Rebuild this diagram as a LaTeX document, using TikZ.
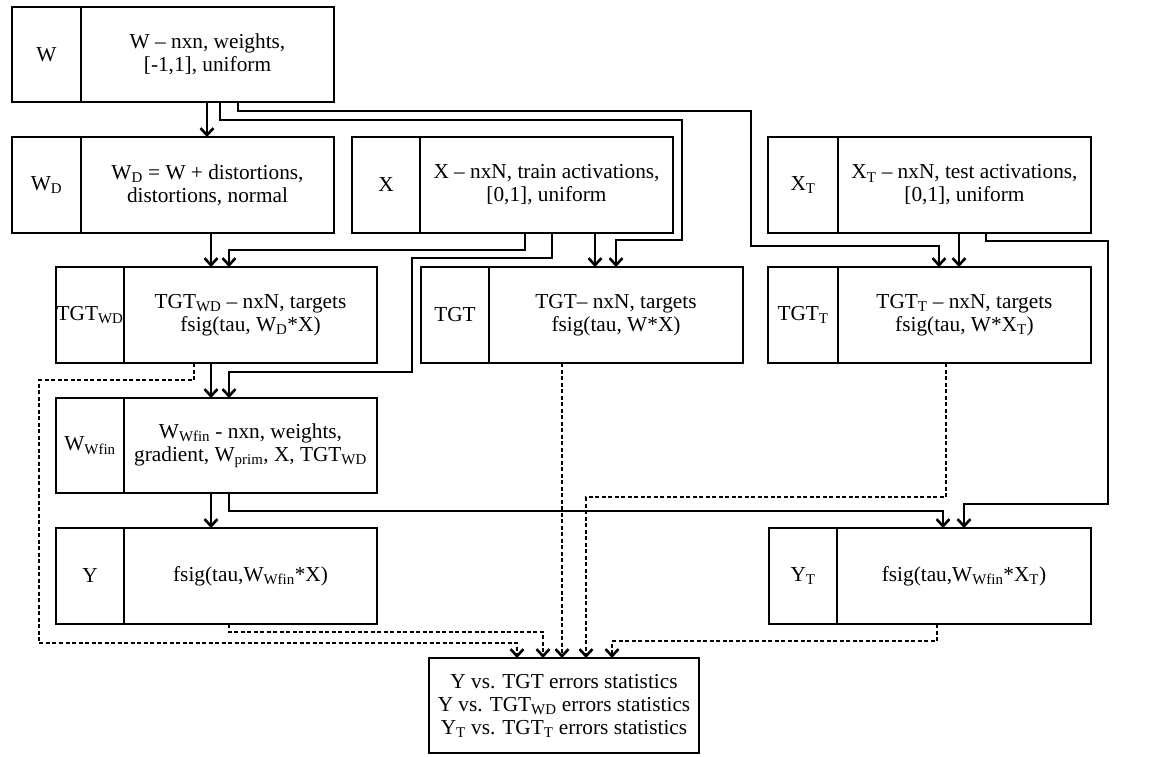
\documentclass[tikz,border=0pt]{standalone}
\usepackage{fontspec}
\setmainfont{Liberation Serif}
\usetikzlibrary{arrows.meta}
\newcommand\fs{\fontsize{21.3pt}{23pt}\selectfont}
\tikzset{
  cell/.style={draw, line width=1.5pt, inner sep=0pt, outer sep=0pt, anchor=north west, align=center, font=\fs},
  divider/.style={line width=2.8pt},
  arr/.style={line width=1.4pt, -{Straight Barb[length=7pt,width=13pt,line width=2.6pt]}},
  dsh/.style={arr, dash pattern=on 4pt off 2.5pt},
}
\begin{document}
\begin{tikzpicture}[x=1pt,y=-1pt]
\useasboundingbox (0,0) rectangle (1165,756);
% row 1
\node[cell, minimum width=69pt, minimum height=95pt] (wl) at (12,7) {W};
\node[cell, minimum width=253pt, minimum height=95pt] (w) at (81,7) {W – nxn, weights,\\{}[-1,1], uniform};
% row 2
\node[cell, minimum width=69pt, minimum height=96pt] (wdl) at (12,137) {W\textsubscript{D}};
\node[cell, minimum width=253pt, minimum height=96pt] (wd) at (81,137) {W\textsubscript{D} = W + distortions,\\ distortions, normal};
\node[cell, minimum width=68pt, minimum height=96pt] (xl) at (352,137) {X};
\node[cell, minimum width=253pt, minimum height=96pt] (x) at (420,137) {X – nxN, train activations,\\{}[0,1], uniform};
\node[cell, minimum width=70pt, minimum height=96pt] (xtl) at (768,137) {X\textsubscript{T}};
\node[cell, minimum width=253pt, minimum height=96pt] (xt) at (838,137) {X\textsubscript{T} – nxN, test activations,\\{}[0,1], uniform};
% row 3
\node[cell, minimum width=68pt, minimum height=96pt] (tgtwdl) at (56,267) {TGT\textsubscript{WD}};
\node[cell, minimum width=253pt, minimum height=96pt] (tgtwd) at (124,267) {TGT\textsubscript{WD} – nxN, targets\\ fsig(tau, W\textsubscript{D}*X)};
\node[cell, minimum width=68pt, minimum height=96pt] (tgtl) at (421,267) {TGT};
\node[cell, minimum width=254pt, minimum height=96pt] (tgt) at (489,267) {TGT– nxN, targets\\ fsig(tau, W*X)};
\node[cell, minimum width=70pt, minimum height=96pt] (tgttl) at (768,267) {TGT\textsubscript{T}};
\node[cell, minimum width=253pt, minimum height=96pt] (tgtt) at (838,267) {TGT\textsubscript{T} – nxN, targets\\ fsig(tau, W*X\textsubscript{T})};
% row 4
\node[cell, minimum width=68pt, minimum height=95pt] (wfl) at (56,398) {W\textsubscript{Wfin}};
\node[cell, minimum width=253pt, minimum height=95pt] (wf) at (124,398) {W\textsubscript{Wfin} - nxn, weights,\\ gradient, W\textsubscript{prim}, X, TGT\textsubscript{WD}};
% row 5
\node[cell, minimum width=68pt, minimum height=96pt] (yl) at (56,528) {Y};
\node[cell, minimum width=253pt, minimum height=96pt] (y) at (124,528) {fsig(tau,W\textsubscript{Wfin}*X)};
\node[cell, minimum width=68pt, minimum height=96pt] (ytl) at (769,528) {Y\textsubscript{T}};
\node[cell, minimum width=254pt, minimum height=96pt] (yt) at (837,528) {fsig(tau,W\textsubscript{Wfin}*X\textsubscript{T})};
% result
\node[cell, minimum width=270pt, minimum height=95pt] (res) at (429,658) {Y vs. TGT errors statistics\\ Y vs. TGT\textsubscript{WD} errors statistics\\ Y\textsubscript{T} vs. TGT\textsubscript{T} errors statistics};
% dividers
\foreach \n in {w,wd,x,xt,tgtwd,tgt,tgtt,wf,y,yt}
  \draw[divider] (\n.north west) -- (\n.south west);
% solid connectors
\draw[arr] ([xshift=126pt]w.south west) -- ([xshift=126pt]wd.north west);
\draw[arr] ([xshift=139pt]w.south west) |- (682,120) |- (616,240) -- ([xshift=127pt]tgt.north west);
\draw[arr] ([xshift=157pt]w.south west) |- (751,111) |- (939,246) -- ([xshift=101pt]tgtt.north west);
\draw[arr] ([xshift=121pt]xt.south west) -- ([xshift=121pt]tgtt.north west);
\draw[arr] ([xshift=148pt]xt.south west) |- (1108,241) |- (964,504) -- ([xshift=127pt]yt.north west);
\draw[arr] ([xshift=175pt]x.south west) -- ([xshift=106pt]tgt.north west);
\draw[arr] ([xshift=105pt]x.south west) |- (229,250) -- ([xshift=105pt]tgtwd.north west);
\draw[arr] ([xshift=130pt]wd.south west) -- ([xshift=87pt]tgtwd.north west);
\draw[arr] ([xshift=132pt]x.south west) |- (412,258) |- (229,372) -- ([xshift=105pt]wf.north west);
\draw[arr] ([xshift=87pt]tgtwd.south west) -- ([xshift=87pt]wf.north west);
\draw[arr] ([xshift=87pt]wf.south west) -- ([xshift=87pt]y.north west);
\draw[arr] ([xshift=105pt]wf.south west) |- (943,511) -- ([xshift=106pt]yt.north west);
% dashed connectors
\draw[dsh] ([xshift=70pt]tgtwd.south west) |- (39,380) |- (517,643) -- ([xshift=88pt]res.north west);
\draw[dsh] ([xshift=105pt]y.south west) |- (543,632) -- ([xshift=114pt]res.north west);
\draw[dsh] ([xshift=73pt]tgt.south west) -- ([xshift=133pt]res.north west);
\draw[dsh] ([xshift=108pt]tgtt.south west) |- (586,497) -- ([xshift=157pt]res.north west);
\draw[dsh] ([xshift=100pt]yt.south west) |- (612,641) -- ([xshift=183pt]res.north west);
\end{tikzpicture}
\end{document}
